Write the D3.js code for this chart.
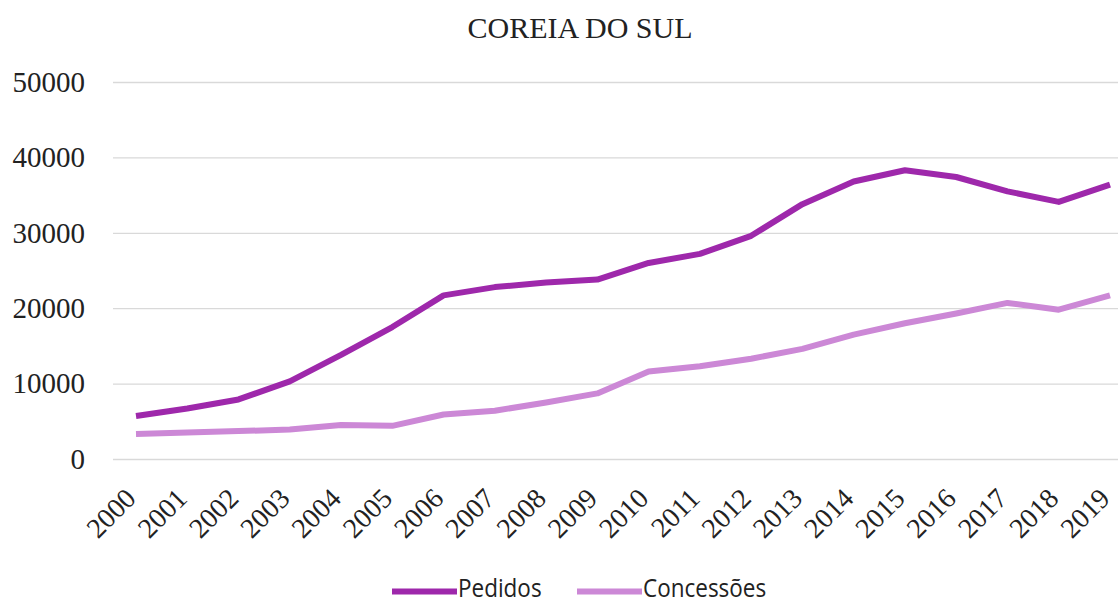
<!DOCTYPE html>
<html>
<head>
<meta charset="utf-8">
<script src="https://cdn.jsdelivr.net/npm/d3@7"></script>
<style>
  body { margin: 0; background: #fff; overflow: hidden; }
  svg { display: block; }
</style>
</head>
<body>
<script>
"use strict";
const years = ["2000","2001","2002","2003","2004","2005","2006","2007","2008","2009","2010","2011","2012","2013","2014","2015","2016","2017","2018","2019"];
const pedidos = [5700, 6700, 7900, 10300, 13800, 17500, 21700, 22800, 23400, 23800, 26000, 27200, 29600, 33800, 36800, 38300, 37400, 35500, 34100, 36400];
const concessoes = [3300, 3500, 3700, 3900, 4500, 4400, 5900, 6400, 7500, 8700, 11600, 12300, 13300, 14600, 16500, 18000, 19300, 20700, 19800, 21700];
const yTicks = [0, 10000, 20000, 30000, 40000, 50000];
const seriesNames = ["Pedidos", "Concessões"];
const seriesColors = ["#9e28ab", "#cc88d6"];

const size = {"width": 1118, "height": 604};
const margin = {"top": 82, "right": 8, "bottom": 145, "left": 113};
const serif = "'Liberation Serif', 'Times New Roman', serif";

const svg = d3.select("body").append("svg").attr("width", size.width).attr("height", size.height);

const xScale = d3.scalePoint().domain(years).range([136, 1110]);
const yScale = d3.scaleLinear().domain([0, 50000]).range([size.height - margin.bottom, margin.top]);

svg.append("text")
  .attr("x", 580).attr("y", 38)
  .attr("text-anchor", "middle")
  .style("font-family", serif).style("font-size", "30px").style("fill", "#222")
  .text("COREIA DO SUL");

// grid + y labels
const yAxis = d3.axisLeft(yScale).tickValues(yTicks).tickSize(-(size.width - margin.left)).tickFormat(d3.format("d")).tickPadding(28);
const gy = svg.append("g").attr("transform", "translate(" + margin.left + ",0)").call(yAxis);
gy.select(".domain").remove();
gy.selectAll(".tick line").attr("stroke", "#d9d9d9").attr("stroke-width", 1.3);
gy.selectAll(".tick text")
  .style("font-family", serif).style("font-size", "29px").style("fill", "#222");

// x labels, rotated
const xAxis = d3.axisBottom(xScale).tickSize(0).tickPadding(0);
const gx = svg.append("g").attr("transform", "translate(0," + (size.height - margin.bottom) + ")").call(xAxis);
gx.select(".domain").remove();
gx.selectAll(".tick text")
  .attr("text-anchor", "end")
  .attr("y", 0).attr("dy", 0)
  .attr("transform", "translate(1,41) rotate(-45)")
  .style("font-family", serif).style("font-size", "28px").style("fill", "#222");

const line = d3.line().x((d, i) => xScale(years[i])).y(d => yScale(d));
[pedidos, concessoes].forEach((s, k) => {
  svg.append("path").datum(s)
    .attr("d", line)
    .attr("fill", "none")
    .attr("stroke", seriesColors[k])
    .attr("stroke-width", 6)
    .attr("stroke-linejoin", "round");
});

// legend
const legendX = [392, 577];
seriesNames.forEach((n, k) => {
  svg.append("line")
    .attr("x1", legendX[k]).attr("x2", legendX[k] + 65)
    .attr("y1", 591.5).attr("y2", 591.5)
    .attr("stroke", seriesColors[k]).attr("stroke-width", 6);
  svg.append("text")
    .attr("transform", "translate(" + (legendX[k] + 66) + ",597) scale(1,1.1)")
    .style("font-family", "'Open Sans', sans-serif").style("font-size", "22.5px").style("fill", "#222")
    .text(n);
});
</script>
</body>
</html>
